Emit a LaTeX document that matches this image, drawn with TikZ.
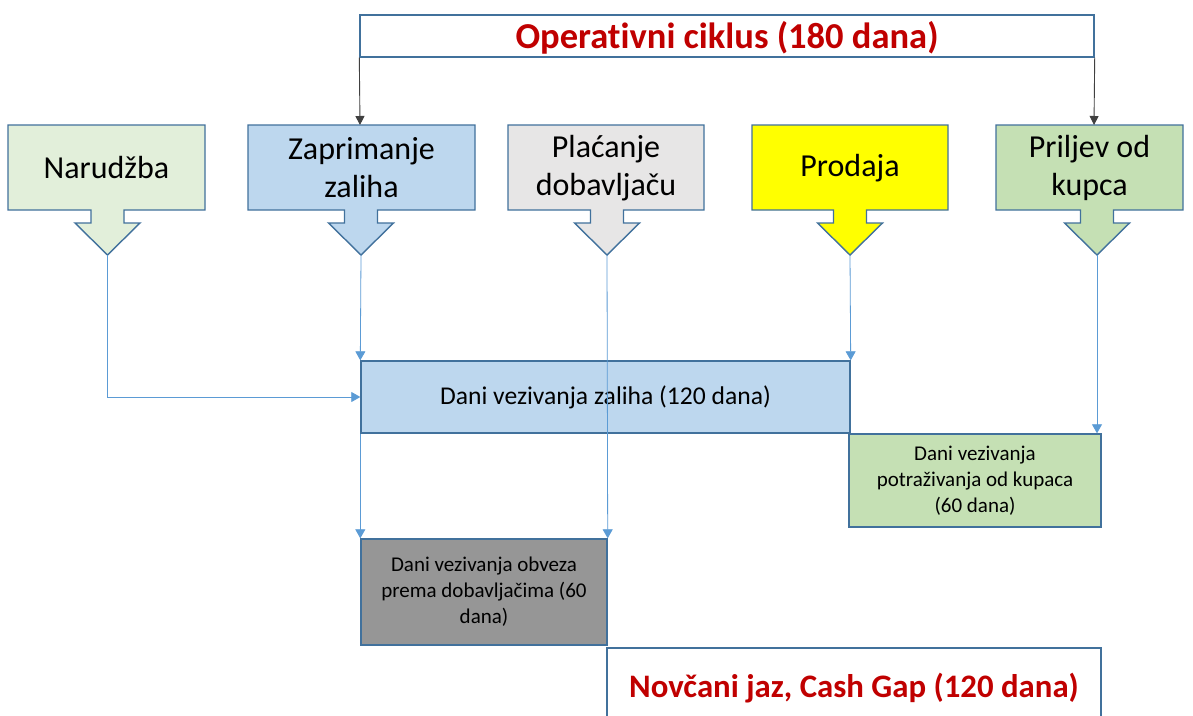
\documentclass[tikz,border=0pt]{standalone}
\usepackage{fontspec}
\setmainfont{Carlito}[Ligatures=NoCommon]
\usetikzlibrary{arrows.meta}
\definecolor{bord}{HTML}{41719C}
\definecolor{conncol}{HTML}{5B9BD5}
\definecolor{topcol}{HTML}{404040}
\definecolor{redtxt}{HTML}{C00000}
\definecolor{fnar}{HTML}{E2EFDA}
\definecolor{fzap}{HTML}{BDD7EE}
\definecolor{fpla}{HTML}{E7E6E6}
\definecolor{fpro}{HTML}{FFFF00}
\definecolor{fpri}{HTML}{C5E0B4}
\definecolor{fobv}{HTML}{969696}
\tikzset{
  cbox/.style={draw=bord, line width=1.4pt, line join=miter},
  ctext/.style={align=center, inner sep=0pt, font=\fontsize{32}{38}\selectfont},
  bbox/.style={draw=bord, line width=1.4pt, inner sep=0pt, align=center},
  conn/.style={draw=conncol, line width=0.8pt, -{Triangle[width=10pt,length=9pt]}},
  topar/.style={draw=topcol, line width=0.9pt, -{Triangle[width=9pt,length=9pt]}},
  smalltxt/.style={font=\fontsize{21}{26}\selectfont},
  redtext/.style={inner sep=0pt, font=\bfseries, text=redtxt}
}
\newcommand{\dcallout}[6]{%
  \filldraw[cbox, fill=#5] (#2,125) -- (#3,125) -- (#3,210) -- ({#4+16.5},210) -- ({#4+16.5},223)
    -- ({#4+32.5},223) -- (#4,255) -- ({#4-32.5},223) -- ({#4-16.5},223) -- ({#4-16.5},210)
    -- (#2,210) -- cycle;
  \node[ctext] (#1) at ({(#2+#3)/2},168) {#6};
  \coordinate (#1tip) at (#4,255);
  \coordinate (#1top) at (#4,125);
}
\begin{document}
\begin{tikzpicture}[x=1pt,y=-1pt]
\clip (0,0) rectangle (1193,715);
\fill[white] (0,0) rectangle (1193,715);

% top box
\node[bbox, fill=white, minimum width=734pt, minimum height=42pt] (op) at (727,36) {};
\node[redtext, font=\bfseries\fontsize{36.5}{42}\selectfont] (optext) at (727,38) {Operativni ciklus (180 dana)};

% callouts
\dcallout{nar}{8}{205}{107.5}{fnar}{Narudžba}
\dcallout{zap}{248}{475}{361}{fzap}{Zaprimanje\\zaliha}
\dcallout{pla}{508}{704}{607}{fpla}{Plaćanje\\dobavljaču}
\dcallout{pro}{752}{948}{850}{fpro}{Prodaja}
\dcallout{pri}{996}{1183}{1097}{fpri}{Priljev od\\kupca}

% top arrows
\coordinate (zapin) at (360,125);
\coordinate (priin) at (1094,125);
\draw[topar] (op.south west) -- (zapin);
\draw[topar] (op.south east) -- (priin);

% boxes
\node[bbox, fill=fzap, minimum width=489pt, minimum height=72pt, font=\fontsize{25.6}{30}\selectfont] (zal) at (605.5,397) {Dani vezivanja zaliha (120 dana)};
\node[bbox, fill=fpri, minimum width=252pt, minimum height=93pt, smalltxt] (pot) at (975,480.5) {Dani vezivanja\\potraživanja od kupaca\\(60 dana)};
\node[bbox, fill=fobv, minimum width=246pt, minimum height=106pt, smalltxt] (obv) at (484,592) {Dani vezivanja obveza\\prema dobavljačima (60\\dana)};
\node[bbox, fill=white, minimum width=494pt, minimum height=80pt] (gap) at (854,688) {};
\node[redtext, font=\bfseries\fontsize{32.8}{38}\selectfont] (gaptext) at (854,688) {Novčani jaz, Cash Gap (120 dana)};

% connectors
\draw[conn] (nartip) |- (zal.west);
\draw[conn] (zaptip) -- (zal.north west);
\draw[conn] (protip) -- (zal.north east);
\draw[conn] (zal.south west) -- (obv.north west);
\draw[conn] (platip) -- (obv.north east);
\draw[conn] (pritip) -- (pritip |- pot.north);
\end{tikzpicture}
\end{document}
